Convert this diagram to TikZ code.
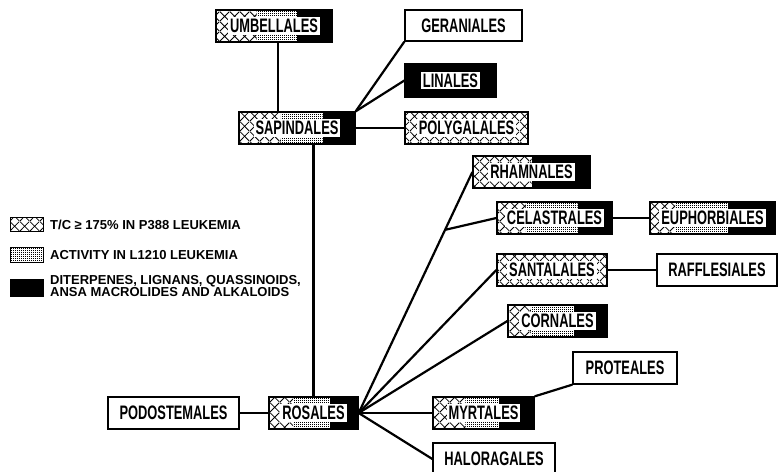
\documentclass[tikz,border=0pt]{standalone}
\usepackage{fontspec}
\newfontfamily\boxfont[FakeStretch=0.66]{Liberation Sans}
\newfontfamily\legfont{Liberation Sans}
\usetikzlibrary{patterns,calc}
\pgfdeclarepatternformonly{diamonds}{\pgfpointorigin}{\pgfpoint{10pt}{10pt}}{\pgfpoint{10pt}{10pt}}{%
  \pgfsetlinewidth{0.8pt}%
  \pgfpathmoveto{\pgfpointorigin}\pgfpathlineto{\pgfpoint{10pt}{10pt}}%
  \pgfpathmoveto{\pgfpoint{0pt}{10pt}}\pgfpathlineto{\pgfpoint{10pt}{0pt}}%
  \pgfusepath{stroke}}
\pgfdeclarepatternformonly{finedots}{\pgfpointorigin}{\pgfpoint{2.4pt}{2.4pt}}{\pgfpoint{2.4pt}{2.4pt}}{%
  \pgfpathrectangle{\pgfpointorigin}{\pgfpoint{1.2pt}{1.2pt}}\pgfusepath{fill}}
\newcommand\boxlab[1]{{\setlength\fboxsep{2pt}\colorbox{white}{#1}}}
\tikzset{
  box/.style={draw, line width=1.3pt, minimum height=32pt, inner sep=0pt,
    font=\boxfont\bfseries\fontsize{19.5}{19.5}\selectfont},
  triple/.style 2 args={box, path picture={
    \path[pattern=diamonds] let \p1=(path picture bounding box.south west), \p2=(path picture bounding box.north east) in
      (\x1,\y1) rectangle ({\x1+#1*(\x2-\x1)},\y2);
    \path[pattern=finedots] let \p1=(path picture bounding box.south west), \p2=(path picture bounding box.north east) in
      ({\x1+#1*(\x2-\x1)},\y1) rectangle ({\x1+#2*(\x2-\x1)},\y2);
    \fill[black] let \p1=(path picture bounding box.south west), \p2=(path picture bounding box.north east) in
      ({\x1+#2*(\x2-\x1)},\y1) rectangle (\x2,\y2);
  }},
  hatchblack/.style={box, path picture={
    \path[pattern=diamonds] let \p1=(path picture bounding box.south west), \p2=(path picture bounding box.north east) in
      (\x1,\y1) rectangle ({\x1+#1*(\x2-\x1)},\y2);
    \fill[black] let \p1=(path picture bounding box.south west), \p2=(path picture bounding box.north east) in
      ({\x1+#1*(\x2-\x1)},\y1) rectangle (\x2,\y2);
  }},
  hatch/.style={box, pattern=diamonds},
  blackbox/.style={box, fill=black},
  plain/.style={box, fill=white},
  conn/.style={line width=2.2pt},
  swatch/.style={draw, line width=0.8pt, minimum width=33pt, minimum height=14pt, inner sep=0pt},
  legtext/.style={anchor=west, inner sep=0pt, align=left,
    font=\legfont\bfseries\fontsize{13}{12}\selectfont}
}
\begin{document}
\begin{tikzpicture}[x=1pt,y=-1pt]
\useasboundingbox[fill=white] (0,0) rectangle (778,471);

% boxes
\node[triple={0.35}{0.7}, minimum width=116pt] (umb) at (274,26) {\boxlab{UMBELLALES}};
\node[plain, minimum width=117pt, minimum height=31pt] (ger) at (463.5,25.5) {GERANIALES};
\node[blackbox, minimum width=91pt, minimum height=33pt] (lin) at (450.5,80.5) {\boxlab{LINALES}};
\node[triple={0.36}{0.72}, minimum width=116pt] (sap) at (297,128) {\boxlab{SAPINDALES}};
\node[hatch, minimum width=123pt] (pol) at (466.5,128) {\boxlab{POLYGALALES}};
\node[hatchblack=0.5, minimum width=117pt] (rha) at (531.5,172) {\boxlab{RHAMNALES}};
\node[triple={0.25}{0.7}, minimum width=115pt] (cel) at (554.5,218) {\boxlab{CELASTRALES}};
\node[triple={0.2}{0.62}, minimum width=125pt] (eup) at (712.5,218) {\boxlab{EUPHORBIALES}};
\node[hatch, minimum width=110pt] (san) at (552,270) {\boxlab{SANTALALES}};
\node[plain, minimum width=120pt] (raf) at (717,270) {RAFFLESIALES};
\node[triple={0.23}{0.67}, minimum width=99pt] (cor) at (557.5,321) {\boxlab{CORNALES}};
\node[plain, minimum width=104pt] (pro) at (625,368) {PROTEALES};
\node[triple={0.32}{0.65}, minimum width=101pt] (myr) at (483.5,413) {\boxlab{MYRTALES}};
\node[plain, minimum width=122pt] (hal) at (494,459) {HALORAGALES};
\node[plain, minimum width=131pt] (pod) at (173.5,413) {PODOSTEMALES};
\node[triple={0.27}{0.69}, minimum width=89pt] (ros) at (313.5,413) {\boxlab{ROSALES}};

% connectors
\coordinate (uv) at (278,0);
\draw[conn] (umb.south -| uv) -- (sap.north -| uv);
\draw[conn] (sap.north east) -- (ger.south west);
\draw[conn] (sap.north east) -- (lin.west);
\draw[conn] (sap.east) -- (pol.west);
\draw[conn] (ros.north |- sap.south) -- (ros.north);
\draw[conn] (pod.east) -- (ros.west);
\coordinate (j) at ($(ros.east)!0.76!(rha.west)$);
\draw[conn] (ros.east) -- (rha.west);
\draw[conn] (j) -- (cel.west);
\draw[conn] (cel.east) -- (eup.west);
\draw[conn] (ros.east) -- (san.west);
\draw[conn] (san.east) -- (raf.west);
\draw[conn] (ros.east) -- (cor.west);
\draw[conn] (ros.east) -- (myr.west);
\draw[conn] (ros.east) -- (hal.west);
\draw[conn] (myr.north east) -- (pro.south west);

% legend
\node[swatch, pattern=diamonds] (s1) at (26.5,224) {};
\node[legtext] (t1) at (50,225) {T/C ≥ 175\% IN P388 LEUKEMIA};
\node[swatch, pattern=finedots, minimum height=15pt] (s2) at (26.5,254.5) {};
\node[legtext] (t2) at (50,255) {ACTIVITY IN L1210 LEUKEMIA};
\node[swatch, fill=black, minimum height=17pt] (s3) at (26.5,287.5) {};
\node[legtext] (t3) at (50,286) {DITERPENES, LIGNANS, QUASSINOIDS,\\ANSA MACROLIDES AND ALKALOIDS};
\end{tikzpicture}
\end{document}
